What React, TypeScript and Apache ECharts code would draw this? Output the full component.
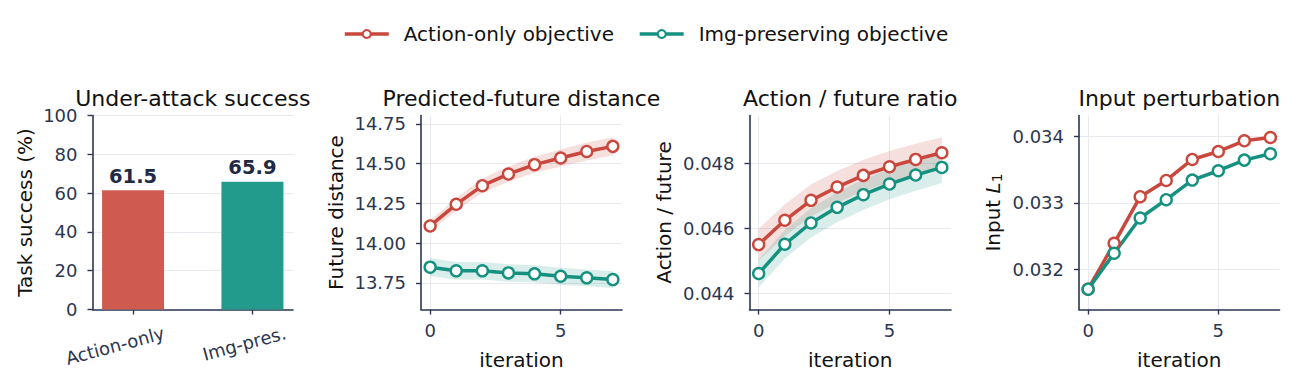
import React, { useEffect, useRef } from 'react';
import * as echarts from 'echarts';

// ---------- data ----------
const seriesNames = ['Action-only objective', 'Img-preserving objective'];

const barCategories = ['Action-only', 'Img-pres.'];
const barPositions = [0, 1];
const barValues = [61.5, 65.9];
const barLabelAnchors = [0.258, 1.277];
const successTicks = [0, 20, 40, 60, 80, 100];

const iterations = [0, 1, 2, 3, 4, 5, 6, 7];
const iterationTicks = [0, 5];

const distAction = [14.108, 14.244, 14.361, 14.434, 14.493, 14.535, 14.576, 14.608];
const distActionSd = [0.035, 0.04, 0.045, 0.048, 0.051, 0.054, 0.056, 0.058];
const distImg = [13.849, 13.826, 13.826, 13.813, 13.807, 13.792, 13.782, 13.771];
const distImgSd = [0.056, 0.056, 0.055, 0.055, 0.054, 0.054, 0.053, 0.053];
const distTicks = [13.75, 14.0, 14.25, 14.5, 14.75];

const ratioAction = [0.045505, 0.046252, 0.046865, 0.047274, 0.047632, 0.047898, 0.048123, 0.048327];
const ratioActionSd = [0.00049, 0.00049, 0.00049, 0.00049, 0.00048, 0.00048, 0.00048, 0.00048];
const ratioImg = [0.044616, 0.045515, 0.04617, 0.04665, 0.047039, 0.047366, 0.047642, 0.047877];
const ratioImgSd = [0.00043, 0.00044, 0.00045, 0.00046, 0.00047, 0.00047, 0.00048, 0.00048];
const ratioTicks = [0.044, 0.046, 0.048];

const l1Action = [0.0317, 0.032391, 0.033093, 0.033338, 0.033654, 0.033774, 0.033935, 0.033985];
const l1Img = [0.0317, 0.032241, 0.032772, 0.033048, 0.033343, 0.033484, 0.033644, 0.033739];
const l1Ticks = [0.032, 0.033, 0.034];

// ---------- style ----------
const FONT = 'DejaVu Sans';
const RED = '#c9473c';
const TEAL = '#15917f';
const RED_BAR = '#cf5a50';
const TEAL_BAR = '#239b8c';
const RED_BAND = 'rgba(201,71,60,0.17)';
const TEAL_BAND = 'rgba(21,145,127,0.16)';
const INK = '#2b3651';
const GRID = '#e9e9f0';
const TITLE = '#111111';

const grids = [
  { left: 92.5, top: 115.5, width: 200.5, height: 194 },
  { left: 421, top: 115.5, width: 201, height: 194 },
  { left: 749.5, top: 115.5, width: 201.5, height: 194 },
  { left: 1079, top: 115.5, width: 200.5, height: 194 },
];
const titles = ['Under-attack success', 'Predicted-future distance', 'Action / future ratio', 'Input perturbation'];

const axisLineStyle = { show: true, onZero: false, lineStyle: { color: INK, width: 1.6 } };
const axisTickStyle = (custom?: number[]) => ({
  show: true,
  length: 5,
  lineStyle: { color: INK, width: 1.4 },
  ...(custom ? { customValues: custom } : {}),
});
const splitLineStyle = (show: boolean) => ({ show, lineStyle: { color: GRID, width: 1 } });

function lineXAxis(gridIndex: number) {
  return {
    type: 'value',
    gridIndex,
    min: -0.35,
    max: 7.35,
    axisLine: axisLineStyle,
    axisTick: axisTickStyle(iterationTicks),
    axisLabel: { customValues: iterationTicks, color: INK, fontSize: 18, margin: 12, fontFamily: FONT },
    splitLine: splitLineStyle(true),
    name: 'iteration',
    nameLocation: 'middle',
    nameGap: 40,
    nameTextStyle: { fontSize: 20, color: TITLE, fontFamily: FONT },
  };
}

function lineYAxis(gridIndex: number, min: number, max: number, ticks: number[], digits: number, name: string, nameGap: number, rich?: any) {
  return {
    type: 'value',
    gridIndex,
    min,
    max,
    axisLine: axisLineStyle,
    axisTick: axisTickStyle(ticks),
    axisLabel: {
      customValues: ticks,
      color: INK,
      fontSize: 18,
      margin: 15,
      fontFamily: FONT,
      formatter: (v: number) => v.toFixed(digits),
    },
    splitLine: splitLineStyle(true),
    name,
    nameLocation: 'middle',
    nameRotate: 90,
    nameGap,
    nameTextStyle: { fontSize: 20, color: TITLE, fontFamily: FONT, ...(rich ? { rich } : {}) },
  };
}

function pairs(ys: number[]) {
  return iterations.map((x, i) => [x, ys[i]]);
}

function bandSeries(idx: number, mean: number[], sd: number[], color: string) {
  return {
    type: 'custom',
    xAxisIndex: idx,
    yAxisIndex: idx,
    silent: true,
    clip: true,
    z: 1,
    data: iterations.map((x, i) => [x, mean[i] - sd[i], mean[i] + sd[i]]),
    encode: { x: 0, y: [1, 2] },
    renderItem: (params: any, api: any) => {
      if (params.dataIndex !== 0) return null;
      const upper = iterations.map((x, i) => api.coord([x, mean[i] + sd[i]]));
      const lower = iterations.map((x, i) => api.coord([x, mean[i] - sd[i]])).reverse();
      return {
        type: 'polygon',
        shape: { points: [...upper, ...lower] },
        style: { fill: color, stroke: 'none' },
        silent: true,
      };
    },
  };
}

function mainLine(idx: number, name: string, ys: number[], color: string) {
  return {
    type: 'line',
    name,
    xAxisIndex: idx,
    yAxisIndex: idx,
    data: pairs(ys),
    symbol: 'circle',
    symbolSize: 11,
    color,
    lineStyle: { color, width: 3.5 },
    itemStyle: { color: '#ffffff', borderColor: color, borderWidth: 2.4 },
    z: 3,
  };
}

export default function App() {
  const ref = useRef<HTMLDivElement>(null);
  useEffect(() => {
    if (!ref.current) return;
    const chart = echarts.init(ref.current, undefined, { renderer: 'svg' });
    const option: any = {
      animation: false,
      textStyle: { fontFamily: FONT },
      legend: {
        data: seriesNames,
        top: 19,
        left: 338,
        itemWidth: 44,
        itemHeight: 10,
        itemGap: 24,
        lineStyle: { width: 3.5 },
        textStyle: { fontSize: 20, color: TITLE, fontFamily: FONT, padding: [0, 0, 0, 10] },
      },
      graphic: titles.map((t, i) => ({
        type: 'text',
        x: grids[i].left + grids[i].width / 2,
        y: 98,
        style: { text: t, fontSize: 22, fill: TITLE, fontFamily: FONT, align: 'center', verticalAlign: 'middle' },
      })),
      grid: grids.map((g) => ({ ...g, containLabel: false })),
      xAxis: [
        {
          type: 'value',
          gridIndex: 0,
          min: -0.34,
          max: 1.34,
          axisLine: axisLineStyle,
          axisTick: axisTickStyle(barPositions),
          axisLabel: {
            customValues: barLabelAnchors,
            rotate: 15,
            margin: 23,
            color: INK,
            fontSize: 18,
            fontFamily: FONT,
            formatter: (v: number) => {
              let best = 0;
              barLabelAnchors.forEach((a, i) => {
                if (Math.abs(a - v) < Math.abs(barLabelAnchors[best] - v)) best = i;
              });
              return barCategories[best];
            },
          },
          splitLine: { show: false },
        },
        lineXAxis(1),
        lineXAxis(2),
        lineXAxis(3),
      ],
      yAxis: [
        {
          type: 'value',
          gridIndex: 0,
          min: 0,
          max: 100,
          interval: 20,
          axisLine: axisLineStyle,
          axisTick: axisTickStyle(successTicks),
          axisLabel: { customValues: successTicks, color: INK, fontSize: 18, margin: 15, fontFamily: FONT },
          splitLine: splitLineStyle(true),
          name: 'Task success (%)',
          nameLocation: 'middle',
          nameRotate: 90,
          nameGap: 58,
          nameTextStyle: { fontSize: 20, color: TITLE, fontFamily: FONT },
        },
        lineYAxis(1, 13.583, 14.802, distTicks, 2, 'Future distance', 75),
        lineYAxis(2, 0.043509, 0.049473, ratioTicks, 3, 'Action / future', 76),
        lineYAxis(3, 0.031394, 0.034316, l1Ticks, 3, 'Input {it|L}{sub|1}', 75, {
          it: { fontStyle: 'italic', fontSize: 20, color: TITLE, fontFamily: FONT },
          sub: { fontSize: 14, color: TITLE, fontFamily: FONT, verticalAlign: 'bottom', padding: [8, 0, 0, 0] },
        }),
      ],
      series: [
        {
          type: 'bar',
          name: 'success',
          xAxisIndex: 0,
          yAxisIndex: 0,
          barWidth: 62,
          data: barPositions.map((x, i) => ({
            value: [x, barValues[i]],
            itemStyle: { color: i === 0 ? RED_BAR : TEAL_BAR },
          })),
          label: {
            show: true,
            position: 'top',
            distance: 4,
            fontSize: 19.5,
            fontWeight: 'bold',
            color: '#1f2a44',
            fontFamily: FONT,
            formatter: (p: any) => p.value[1].toFixed(1),
          },
          z: 2,
        },
        bandSeries(1, distAction, distActionSd, RED_BAND),
        bandSeries(1, distImg, distImgSd, TEAL_BAND),
        mainLine(1, seriesNames[0], distAction, RED),
        mainLine(1, seriesNames[1], distImg, TEAL),
        bandSeries(2, ratioAction, ratioActionSd, RED_BAND),
        bandSeries(2, ratioImg, ratioImgSd, TEAL_BAND),
        mainLine(2, seriesNames[0], ratioAction, RED),
        mainLine(2, seriesNames[1], ratioImg, TEAL),
        mainLine(3, seriesNames[0], l1Action, RED),
        mainLine(3, seriesNames[1], l1Img, TEAL),
      ],
    };
    chart.setOption(option);
    return () => chart.dispose();
  }, []);
  return (
    <div
      ref={ref}
      style={{ position: 'absolute', left: 0, top: 0, width: 1298, height: 391, background: '#ffffff' }}
    />
  );
}
